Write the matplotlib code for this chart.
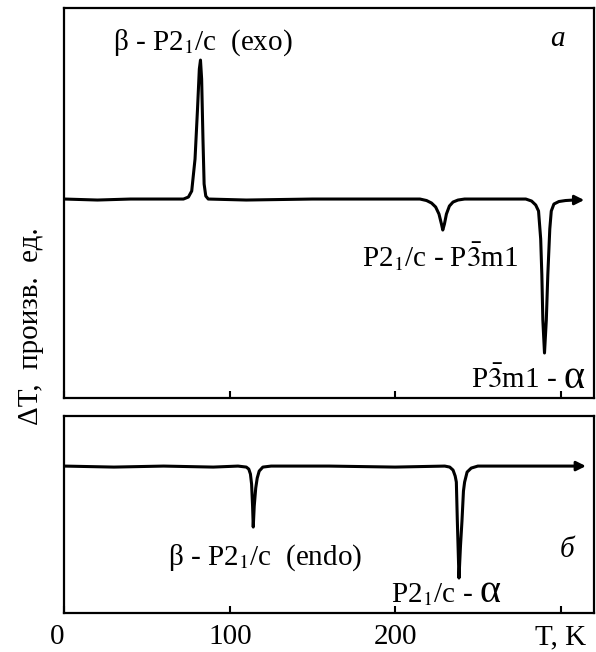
import matplotlib
matplotlib.use("Agg")
import matplotlib.pyplot as plt
import numpy as np

plt.rcParams['font.family'] = ['Liberation Serif', 'DejaVu Serif']
plt.rcParams['mathtext.fontset'] = 'stix'

# Curve (a): DTA trace on cooling (T in K, dT in arb. units)
t_a = [0, 20, 40, 60, 72, 75, 77, 79, 80.5, 81.6, 82.3, 83.0, 83.8, 84.5, 85.5, 87, 110, 150, 190,
       215, 219, 222, 224.5, 226.5, 228, 228.8, 229.8, 231, 232.8, 235, 238, 242, 260,
       279, 282.5, 285, 286.7, 288, 288.7, 289.3, 290.3, 291.4, 292.3, 293.5, 294.4, 296, 299, 303, 308]
dt_a = [0, -1, 0, 0, 0, 2, 8, 40, 90, 130, 139, 120, 60, 15, 3, 0, -1, 0, 0,
        0, -1.5, -4, -8, -15, -25, -31, -25, -15, -7, -3, -1, 0, 0,
        0, -2, -6, -12, -40, -76, -121, -154, -121, -76, -30, -12, -5, -2.5, -1.5, -1]

# Curve (б): DTA trace on heating
t_b = [0, 30, 60, 90, 105, 110, 111.5, 112.5, 113.2, 113.8, 114.2, 114.8, 115.7, 116.6, 117.8, 120, 125,
       160, 200, 230, 233, 235, 236.3, 237, 237.6, 238.6, 239.5, 240.4, 241.3, 242, 243.5, 246, 250,
       280, 308]
dt_b = [0, -1, 0, -1, 0, -1, -3, -8, -18, -40, -61, -40, -22, -12, -5, -1, 0,
        0, -1, 0, -1, -4, -10, -16, -55, -112, -80, -55, -25, -16, -6, -2, 0,
        0, 0]

x_ticks = [0, 100, 200, 300]
x_ticklabels = ['0', '100', '200', 'T, K']

fig = plt.figure(figsize=(5.96, 6.52), dpi=100)
ax1 = fig.add_axes([0.108, 0.3896, 0.888, 0.598])
ax2 = fig.add_axes([0.108, 0.0598, 0.888, 0.302])

for ax in (ax1, ax2):
    ax.set_xlim(0, 320)
    ax.set_xticks(x_ticks)
    ax.set_yticks([])
    ax.tick_params(axis='x', direction='in', length=5, width=1.5, labelsize=21, pad=8)
    for s in ax.spines.values():
        s.set_linewidth(1.6)

ax1.set_ylim(-199, 191)
ax2.set_ylim(-147, 50)
ax1.set_xticklabels([])
ax2.set_xticklabels(x_ticklabels)
# the "0" label sits a little left of the axis corner in the original
ax2.get_xticklabels()[0].set_horizontalalignment('right')
ax2.get_xticklabels()[0].set_x(0)

ax1.plot(t_a, dt_a, color='black', lw=2.2)
ax2.plot(t_b, dt_b, color='black', lw=2.2)
ax1.annotate('', xy=(316, -1), xytext=(t_a[-1], dt_a[-1]),
             arrowprops=dict(arrowstyle='-|>', color='black', lw=2, mutation_scale=14))
ax2.annotate('', xy=(317, 0), xytext=(t_b[-1], dt_b[-1]),
             arrowprops=dict(arrowstyle='-|>', color='black', lw=2, mutation_scale=14))

fs = 21
ax1.text(83.7, 149, r'β - P2$_1$/c  (exo)', ha='center', va='baseline', fontsize=fs)
ax1.text(298, 153, 'a', ha='center', va='baseline', fontsize=fs, style='italic')
ax1.text(227.5, -68, r'P2$_1$/c - P$\bar{3}$m1', ha='center', va='baseline', fontsize=fs)
ax1.text(297.6, -189, r'P$\bar{3}$m1 -', ha='right', va='baseline', fontsize=fs)
ax1.text(308.2, -189, 'α', ha='center', va='baseline', fontsize=29)

ax2.text(121.2, -99, r'β - P2$_1$/c  (endo)', ha='center', va='baseline', fontsize=fs)
ax2.text(304, -91, 'б', ha='center', va='baseline', fontsize=fs, style='italic')
ax2.text(246.8, -136, r'P2$_1$/c -', ha='right', va='baseline', fontsize=fs)
ax2.text(257.4, -136, 'α', ha='center', va='baseline', fontsize=29)

fig.text(0.052, 0.5, 'ΔT,  произв.  ед.', rotation=90, ha='center', va='center', fontsize=21)

fig.savefig('out.png', dpi=100)
